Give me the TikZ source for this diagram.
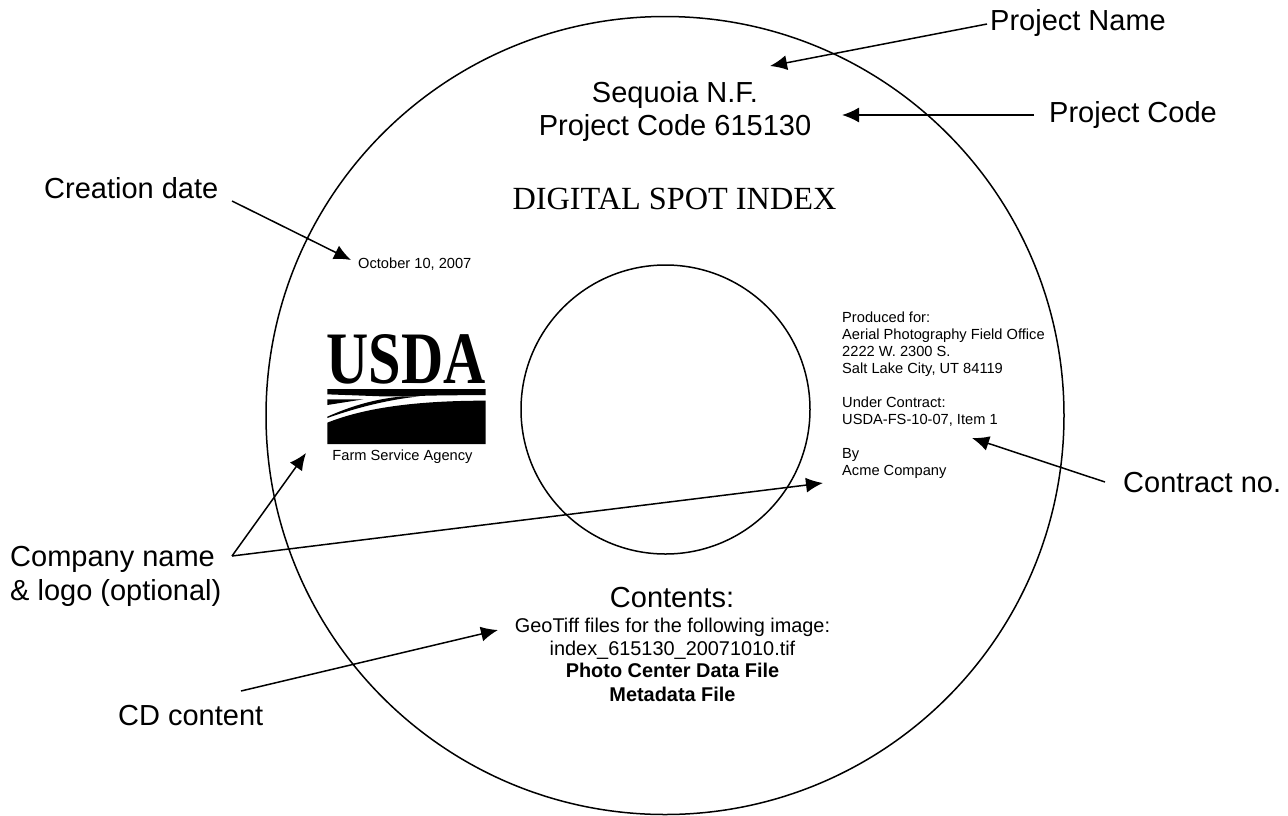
\documentclass[tikz,border=0pt]{standalone}
\usepackage{fontspec}
\usetikzlibrary{arrows.meta}
\setmainfont{Liberation Sans}
\newfontfamily\serifcd{Liberation Serif}
\tikzset{
  big/.style={inner sep=0pt,anchor=base west,font=\fontsize{29}{33}\selectfont},
  bigc/.style={inner sep=0pt,anchor=base,font=\fontsize{29}{33}\selectfont},
  small/.style={inner sep=0pt,font=\fontsize{14.65}{16.95}\selectfont,align=left},
  mid/.style={inner sep=0pt,anchor=base,font=\fontsize{19.9}{23}\selectfont},
  midb/.style={inner sep=0pt,anchor=base,font=\fontsize{19.9}{23}\selectfont\bfseries},
  disc/.style={draw=black,line width=1.5pt},
  pointer/.style={draw=black,line width=1.5pt,-{Latex[length=17pt,width=15pt]}},
  logoink/.style={fill=black,draw=none}
}
\begin{document}
\begin{tikzpicture}[x=1pt,y=-1pt]
\useasboundingbox (0,0) rectangle (1288,815);
\fill[white] (0,0) rectangle (1288,815);
\draw[disc] (665,415.5) circle[radius=399];
\draw[disc] (665.5,409.5) circle[radius=144.5];

\node[big] (pname) at (990,30) {Project Name};
\node[big] (pcode) at (1049,122) {Project Code};
\node[big] (cdate) at (44,198) {Creation date};
\node[big] (contract) at (1123,492) {Contract no.};
\node[big] (company) at (10,566) {Company name};
\node[big] (logo) at (10,600) {\& logo (optional)};
\node[big] (cdc) at (118,725) {CD content};

\node[bigc] (title) at (675,102) {Sequoia N.F.};
\node[bigc] (code) at (675,135) {Project Code 615130};
\node[inner sep=0pt,anchor=base,font=\serifcd\fontsize{32.3}{36}\selectfont] (spot) at (674.5,209) {DIGITAL SPOT INDEX};
\node[small,anchor=base west] (date) at (358,268) {October 10, 2007};
\node[small,anchor=north west] (prod) at (842,312) {Produced for:\\Aerial Photography Field Office\\2222 W. 2300 S.\\Salt Lake City, UT 84119\\[16.95pt]Under Contract:\\USDA-FS-10-07, Item 1\\[16.95pt]By\\Acme Company};
\node[small,anchor=base] (fsa) at (402.5,460) {Farm Service Agency};
\node[bigc] (contents) at (672,607) {Contents:};
\node[mid] (geo) at (672.5,632) {GeoTiff files for the following image:};
\node[mid] (tif) at (672.5,655) {index\_615130\_20071010.tif};
\node[midb] (pcd) at (672.5,677) {Photo Center Data File};
\node[midb] (meta) at (672.5,701) {Metadata File};

% logo
\node[inner sep=0pt,font=\serifcd\bfseries] (usda) at (406,359) {\resizebox{159pt}{49pt}{USDA}};
\begin{scope}[shift={(320,380)},x=0.3333pt,y=-0.3333pt]
\path[logoink] (22,27) -- (497,27) -- (497,45) -- (380,46) .. controls (300,47) and (240,50) .. (185,49) -- (22,43) -- cycle;
\path[logoink] (22,58) -- (130,58) -- (22,75) -- cycle;
\path[logoink] (22,110) .. controls (90,80) and (160,57) .. (250,49) -- (300,49) .. controls (190,60) and (90,90) .. (22,114) -- cycle;
\path[logoink] (22,128) .. controls (130,85) and (280,62) .. (497,62) -- (497,192) -- (22,192) -- cycle;
\end{scope}

% connector ends
\coordinate (sName) at (987,24);
\coordinate (tName) at (770,66);
\coordinate (sCode) at (1034,115);
\coordinate (tCode) at (842,115);
\coordinate (sDate) at (232,201);
\coordinate (tDate) at (351,260);
\coordinate (sContract) at (1105,482);
\coordinate (tContract) at (972,438);
\coordinate (sCompany) at (232,556);
\coordinate (tLogo) at (306,453);
\coordinate (tAcme) at (823,483);
\coordinate (sCD) at (241,691);
\coordinate (tCD) at (498,630);
\draw[pointer] (sName) -- (tName);
\draw[pointer] (sCode) -- (tCode);
\draw[pointer] (sDate) -- (tDate);
\draw[pointer] (sContract) -- (tContract);
\draw[pointer] (sCompany) -- (tLogo);
\draw[pointer] (sCompany) -- (tAcme);
\draw[pointer] (sCD) -- (tCD);
\end{tikzpicture}
\end{document}
